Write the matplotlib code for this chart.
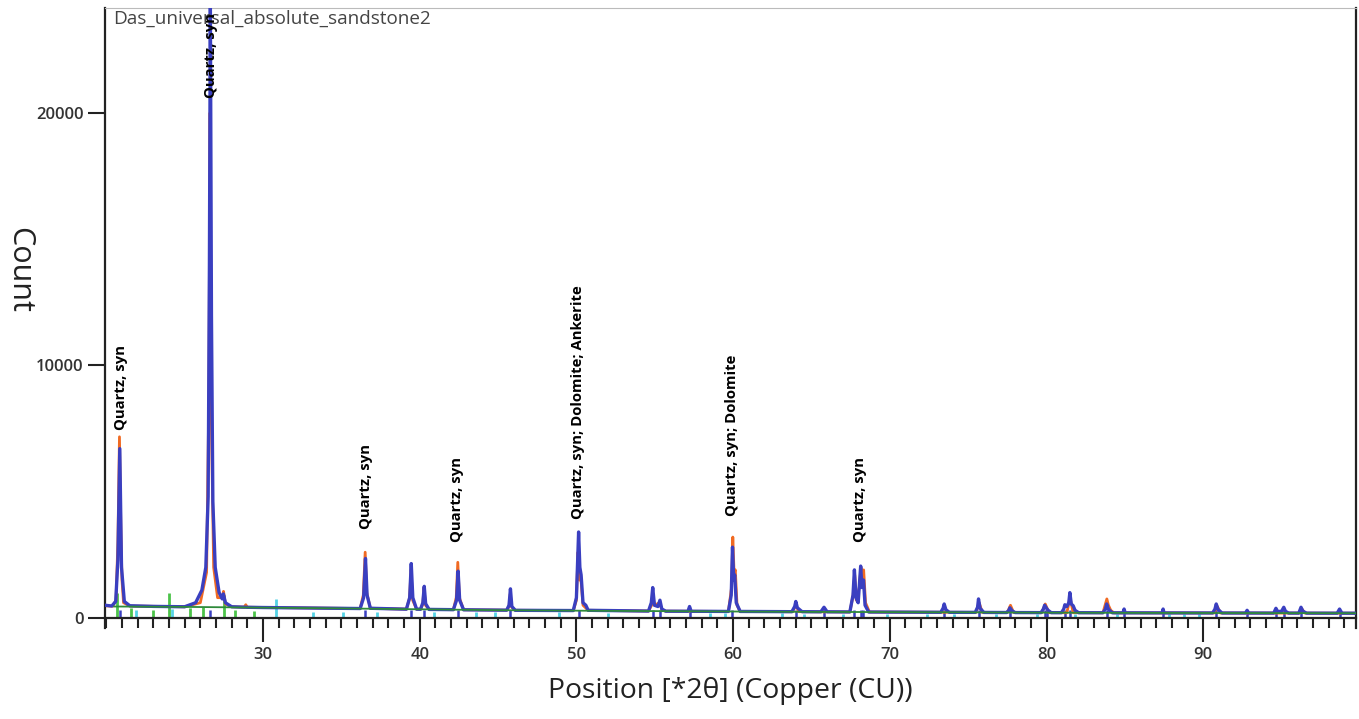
import matplotlib.pyplot as plt
from matplotlib.ticker import MultipleLocator, FixedLocator

plt.rcParams['font.family'] = ['Open Sans', 'DejaVu Sans']

# calculated profile (blue), traced as (2theta, count) vertices
calc_pts = [
    (19.92, 500), (20.35, 470), (20.6, 650), (20.74, 2300), (20.86, 6700), (20.97, 2000), (21.15, 650), (21.5, 480),
    (23.0, 455), (25.0, 440), (25.7, 600), (26.1, 1100), (26.35, 2000), (26.5, 4800), (26.58, 14000), (26.64, 24500),
    (26.71, 12000), (26.8, 4600), (26.95, 2000), (27.2, 1000), (27.4, 750), (27.47, 950), (27.6, 600), (28.0, 440),
    (29.0, 420), (30.0, 410), (33.0, 390), (36.2, 370), (36.42, 800), (36.54, 2350), (36.64, 900), (36.85, 380),
    (39.15, 345), (39.36, 800), (39.46, 2150), (39.56, 800), (39.8, 345),
    (40.05, 340), (40.2, 600), (40.29, 1250), (40.38, 560), (40.6, 335),
    (42.15, 325), (42.35, 700), (42.45, 1850), (42.55, 700), (42.8, 320),
    (45.55, 305), (45.7, 500), (45.79, 1150), (45.88, 450), (46.1, 300),
    (49.8, 290), (50.0, 800), (50.14, 3400), (50.22, 2000), (50.3, 1700), (50.42, 600), (50.6, 500), (50.75, 300),
    (54.6, 270), (54.78, 600), (54.87, 1200), (54.98, 500), (55.2, 450), (55.33, 700), (55.45, 350), (55.7, 265),
    (57.12, 262), (57.22, 450), (57.32, 262),
    (59.7, 255), (59.88, 900), (59.96, 2800), (60.04, 1500), (60.1, 1700), (60.2, 600), (60.45, 255),
    (63.75, 245), (63.93, 450), (64.0, 650), (64.1, 400), (64.4, 245),
    (65.6, 240), (65.8, 420), (66.0, 240),
    (67.45, 235), (67.65, 900), (67.74, 1900), (67.84, 800), (67.98, 600), (68.06, 1300), (68.14, 2050),
    (68.22, 1200), (68.32, 1500), (68.42, 500), (68.65, 232),
    (73.25, 222), (73.4, 380), (73.47, 550), (73.58, 320), (73.8, 220),
    (75.45, 218), (75.6, 420), (75.66, 750), (75.76, 380), (76.0, 216),
    (77.45, 212), (77.6, 300), (77.66, 400), (77.8, 280), (78.0, 210),
    (79.65, 208), (79.8, 350), (79.88, 500), (80.0, 380), (80.1, 300), (80.3, 206),
    (80.95, 205), (81.1, 350), (81.17, 520), (81.3, 450), (81.42, 600), (81.49, 1000), (81.58, 550), (81.7, 480),
    (81.82, 300), (82.05, 204),
    (83.6, 202), (83.76, 350), (83.84, 550), (83.95, 340), (84.2, 200),
    (84.88, 199), (84.95, 350), (85.02, 199),
    (87.38, 197), (87.44, 350), (87.5, 196),
    (90.6, 194), (90.75, 350), (90.83, 550), (90.95, 330), (91.2, 193),
    (92.7, 192), (92.8, 300), (92.9, 192),
    (94.5, 190), (94.64, 380), (94.75, 250), (95.0, 260), (95.14, 420), (95.25, 260), (95.45, 190),
    (96.1, 189), (96.24, 420), (96.36, 260), (96.6, 188),
    (98.55, 186), (98.7, 350), (98.85, 186), (99.75, 185),
]

# observed profile (red/orange)
obs_pts = [
    (19.92, 480), (20.4, 460), (20.62, 700), (20.74, 3000), (20.84, 7170), (20.93, 3500), (21.0, 1500), (21.1, 600),
    (21.5, 470), (25.0, 440), (26.0, 600), (26.4, 1800), (26.55, 9000), (26.62, 20000), (26.7, 8000), (26.85, 2000),
    (27.1, 800), (27.4, 800), (27.48, 1050), (27.6, 550), (28.0, 440), (28.8, 425), (28.9, 520), (29.0, 420),
    (36.2, 370), (36.4, 900), (36.52, 2600), (36.62, 1000), (36.85, 380),
    (39.15, 345), (39.36, 800), (39.44, 1900), (39.55, 700), (39.8, 345),
    (40.05, 340), (40.2, 550), (40.27, 1200), (40.37, 500), (40.6, 335),
    (42.15, 325), (42.33, 800), (42.43, 2200), (42.53, 800), (42.8, 320),
    (45.55, 305), (45.7, 450), (45.78, 950), (45.87, 420), (46.1, 300),
    (49.8, 290), (50.0, 700), (50.1, 2600), (50.2, 1500), (50.28, 1600), (50.42, 500), (50.75, 300),
    (54.6, 270), (54.8, 500), (54.88, 900), (54.98, 500), (55.3, 600), (55.45, 330), (55.7, 265),
    (59.7, 255), (59.9, 1200), (59.98, 3200), (60.06, 1800), (60.14, 1900), (60.25, 500), (60.45, 255),
    (63.8, 245), (64.0, 500), (64.2, 245),
    (67.45, 235), (67.66, 900), (67.76, 1700), (67.86, 700), (68.05, 1200), (68.16, 2000), (68.24, 1500),
    (68.33, 1900), (68.45, 600), (68.7, 232),
    (75.5, 218), (75.7, 600), (75.9, 216),
    (77.5, 212), (77.7, 500), (77.9, 210),
    (79.7, 208), (79.92, 550), (80.15, 206),
    (81.3, 205), (81.5, 800), (81.7, 205),
    (83.6, 202), (83.85, 750), (83.95, 500), (84.1, 300), (84.3, 200),
    (90.7, 194), (90.9, 450), (91.1, 193),
    (96.1, 189), (96.3, 350), (96.5, 188),
    (99.75, 185),
]

# background (green)
bg_x = [20.5, 25, 30, 35, 40, 45, 50, 55, 60, 65, 70, 75, 80, 85, 90, 95, 99.75]
bg_y = [450, 435, 405, 375, 340, 305, 285, 268, 252, 238, 228, 218, 207, 199, 193, 189, 184]

# reference pattern sticks
quartz_pos = [20.86, 26.64, 36.54, 39.46, 40.29, 42.45, 45.79, 50.14, 54.87, 55.33, 57.24, 59.96, 64.04,
              65.79, 67.74, 68.14, 68.32, 73.47, 75.66, 77.66, 79.88, 80.05, 81.17, 81.49, 83.84, 84.95,
              87.44, 90.83, 92.8, 94.64, 95.14, 96.24, 98.7]
dolomite_pos = [20.66, 21.6, 23.0, 24.0, 25.34, 26.2, 27.5, 28.2, 29.4]
dolomite_top = [980, 400, 320, 980, 400, 450, 900, 320, 280]
ankerite_pos = [21.9, 24.2, 30.8, 33.2, 35.1, 37.3, 40.9, 43.6, 44.8, 48.9, 52.0, 58.5, 59.5, 63.1, 64.5,
                67.0, 69.8, 72.4, 74.1, 76.8, 79.4, 81.8, 84.5, 87.8, 88.8, 89.7]
ankerite_top = [300, 350, 750, 250, 250, 250, 250, 250, 250, 250, 200, 200, 200, 200, 170,
                170, 170, 170, 170, 170, 170, 170, 170, 170, 170, 170]

# phase labels
label_txt = ['Quartz, syn', 'Quartz, syn', 'Quartz, syn', 'Quartz, syn',
             'Quartz, syn; Dolomite; Ankerite', 'Quartz, syn; Dolomite', 'Quartz, syn']
label_x = [20.95, 26.68, 36.6, 42.4, 50.1, 59.9, 68.1]
label_y = [7450, 20600, 3500, 3000, 3900, 4050, 3000]

fig = plt.figure(figsize=(13.59, 7.19), dpi=100)
ax = fig.add_axes([0.0773, 0.1266, 0.9205, 0.8623])

ax.vlines(quartz_pos, 0, 300, color='#3a3fc0', lw=1.8, zorder=1)
ax.vlines(dolomite_pos, 0, dolomite_top, color='#4cc34a', lw=2.0, zorder=1)
ax.vlines(ankerite_pos, 0, ankerite_top, color='#55d3e6', lw=2.0, zorder=1)

ax.plot([p[0] for p in obs_pts], [p[1] for p in obs_pts], color='#f06a22', lw=2.0, zorder=2)
ax.plot([p[0] for p in calc_pts], [p[1] for p in calc_pts], color='#3a3fc0', lw=2.4, zorder=3)
ax.plot(bg_x, bg_y, color='#2f8a3a', lw=1.3, zorder=4)

for t, x, y in zip(label_txt, label_x, label_y):
    ax.text(x, y, t, rotation=90, ha='center', va='bottom', fontsize=10.7,
            fontweight='bold', color='black', clip_on=False, zorder=5)

ax.text(0.0064, 0.997, 'Das_universal_absolute_sandstone2', transform=ax.transAxes,
        ha='left', va='top', fontsize=13.6, color='#444444')

ax.set_xlim(19.92, 99.75)
ax.set_ylim(-400, 24150)

ax.spines['bottom'].set_position(('data', 0))
ax.spines['top'].set_color('#bbbbbb')
ax.spines['top'].set_linewidth(0.8)
for s in ['left', 'right', 'bottom']:
    ax.spines[s].set_color('#222222')
    ax.spines[s].set_linewidth(1.6)

ax.xaxis.set_major_locator(FixedLocator([30, 40, 50, 60, 70, 80, 90]))
ax.xaxis.set_minor_locator(MultipleLocator(1))
ax.set_yticks([0, 10000, 20000])
ax.tick_params(axis='x', which='major', length=17, width=1.5, color='#222222',
               labelsize=12, labelcolor='#333333', pad=4)
ax.tick_params(axis='x', which='minor', length=7, width=1.5, color='#222222')
ax.tick_params(axis='y', which='major', length=12, width=1.5, color='#222222',
               labelsize=12, labelcolor='#333333')
for lb in ax.get_xticklabels() + ax.get_yticklabels():
    lb.set_fontweight('semibold')

ax.set_xlabel('Position [*2θ] (Copper (CU))', fontsize=20.4, color='#222222', labelpad=10)
ax.set_ylabel('Count', fontsize=22, color='#222222', rotation=270)
ax.yaxis.set_label_coords(-0.081, 0.577)

fig.savefig('out.png', dpi=100)
